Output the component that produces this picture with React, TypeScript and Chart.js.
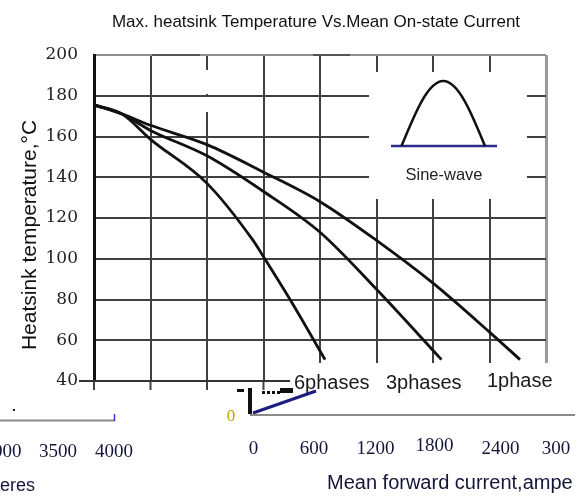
import React, { useEffect, useRef } from 'react';
import { Chart, registerables } from 'chart.js';

Chart.register(...registerables);

// ---- data ----
const CURRENT_1PHASE = [0, 250, 500, 1000, 1500, 2000, 2500, 3000, 3500, 3770];
const TEMP_1PHASE = [175.5, 171, 165.5, 156, 142.5, 128, 109, 88, 64, 50.5];
const CURRENT_3PHASE = [0, 250, 500, 1000, 1500, 2000, 2500, 3075];
const TEMP_3PHASE = [175.5, 171, 163, 150.5, 133, 113, 85, 50.5];
const CURRENT_6PHASE = [0, 250, 500, 1000, 1400, 1500, 1735, 2045];
const TEMP_6PHASE = [175.5, 171, 158.6, 137, 109.6, 101, 80, 50.5];

const Y_MIN = 40;
const Y_MAX = 200;
const Y_STEP = 20;
const X_MIN = 0;
const X_MAX = 4000;
const X_STEP = 500;

const TITLE = 'Max. heatsink Temperature Vs.Mean On-state Current';
const Y_TITLE = 'Heatsink temperature,°C';
const INSET_LABEL = 'Sine-wave';
const PHASE_LABELS = ['6phases', '3phases', '1phase'];
const LEFT_FRAGMENT_TICKS = ['000', '3500', '4000'];
const RIGHT_FRAGMENT_TICKS = ['0', '600', '1200', '1800', '2400', '300'];
const LEFT_FRAGMENT_LABEL = 'eres';
const RIGHT_FRAGMENT_LABEL = 'Mean forward current,ampe';
const ZERO_FRAGMENT = '0';

const toPoints = (xs: number[], ys: number[]) => xs.map((x, i) => ({ x, y: ys[i] }));

const GRID = '#404040';
const FRAME_GRAY = '#8f8f8f';
const INK = '#15153a';

const decorPlugin = {
  id: 'decor',
  afterDraw(chart: any) {
    const ctx: CanvasRenderingContext2D = chart.ctx;
    const xs = chart.scales.x;
    const ys = chart.scales.y;
    const area = chart.chartArea;
    ctx.save();

    // title
    ctx.fillStyle = '#111';
    ctx.font = '17px "Liberation Sans", Arial, sans-serif';
    ctx.textAlign = 'center';
    ctx.textBaseline = 'alphabetic';
    ctx.fillText(TITLE, 316, 27);

    // y axis title
    ctx.save();
    ctx.translate(36, 235);
    ctx.rotate(-Math.PI / 2);
    ctx.font = '21px "Liberation Sans", Arial, sans-serif';
    ctx.fillStyle = '#111';
    ctx.textAlign = 'center';
    ctx.fillText(Y_TITLE, 0, 0);
    ctx.restore();

    // white patches (inset, label band, gap on one grid line)
    ctx.fillStyle = '#fff';
    ctx.fillRect(369, 72, 158, 127);
    ctx.fillRect(290, 363, 292, 33);
    const x1000 = xs.getPixelForValue(1000);
    ctx.fillRect(x1000 - 2, 70, 4, 24);
    ctx.fillRect(x1000 - 2, 97, 4, 15);

    // grid line extensions below the plot, on the left part
    ctx.strokeStyle = GRID;
    ctx.lineWidth = 2;
    [0, 500, 1000, 1500].forEach((v) => {
      const px = xs.getPixelForValue(v);
      ctx.beginPath();
      ctx.moveTo(px, area.bottom);
      ctx.lineTo(px, area.bottom + 9);
      ctx.stroke();
    });
    // 40 line extension
    const y40 = ys.getPixelForValue(Y_MIN);
    ctx.strokeStyle = '#333';
    ctx.beginPath();
    ctx.moveTo(79, y40);
    ctx.lineTo(290, y40);
    ctx.stroke();

    // darker segments on the top frame
    const yTop = ys.getPixelForValue(Y_MAX);
    ctx.strokeStyle = '#555';
    ctx.beginPath();
    ctx.moveTo(152, yTop);
    ctx.lineTo(200, yTop);
    ctx.moveTo(313, yTop);
    ctx.lineTo(350, yTop);
    ctx.stroke();

    // sine-wave inset icon
    const bx0 = 391, bx1 = 497, by = 146;
    ctx.strokeStyle = '#2b2b8a';
    ctx.lineWidth = 2.5;
    ctx.beginPath();
    ctx.moveTo(bx0, by);
    ctx.lineTo(bx1, by);
    ctx.stroke();
    const sx0 = 401.5, sx1 = 485, sTop = 81;
    const W = sx1 - sx0, H = by - sTop;
    const k = W / Math.PI;
    ctx.strokeStyle = '#111';
    ctx.lineWidth = 2.5;
    ctx.beginPath();
    ctx.moveTo(sx0, by);
    ctx.bezierCurveTo(sx0 + 0.512 * k, by - 0.512 * H, sx0 + 1.003 * k, sTop, sx0 + W / 2, sTop);
    ctx.bezierCurveTo(sx1 - 1.003 * k, sTop, sx1 - 0.512 * k, by - 0.512 * H, sx1, by);
    ctx.stroke();
    ctx.fillStyle = '#222';
    ctx.font = '16.5px "Liberation Sans", Arial, sans-serif';
    ctx.textAlign = 'center';
    ctx.fillText(INSET_LABEL, 444, 180);

    // phase labels
    ctx.fillStyle = '#1a1a1a';
    ctx.font = '20px "Liberation Sans", Arial, sans-serif';
    ctx.textAlign = 'left';
    const phaseX = [294, 386, 487];
    const phaseY = [389, 389, 387];
    PHASE_LABELS.forEach((t, i) => ctx.fillText(t, phaseX[i], phaseY[i]));

    // broken fragments below the chart
    ctx.fillStyle = '#111';
    ctx.fillRect(248, 388, 4, 26);
    ctx.fillRect(237, 389, 7, 3);
    ctx.fillRect(280, 388, 13, 5);
    for (let d = 262; d < 279; d += 5) ctx.fillRect(d, 391, 3, 3);
    ctx.strokeStyle = '#1d1d80';
    ctx.lineWidth = 3;
    ctx.beginPath();
    ctx.moveTo(253, 413);
    ctx.lineTo(316, 391);
    ctx.stroke();
    ctx.strokeStyle = '#8a8a8a';
    ctx.lineWidth = 2;
    ctx.beginPath();
    ctx.moveTo(250, 415);
    ctx.lineTo(575, 415);
    ctx.moveTo(0, 420.5);
    ctx.lineTo(115, 420.5);
    ctx.stroke();
    ctx.strokeStyle = '#3a3ad0';
    ctx.lineWidth = 1.5;
    ctx.beginPath();
    ctx.moveTo(114.5, 414);
    ctx.lineTo(114.5, 421);
    ctx.stroke();
    ctx.fillStyle = '#222';
    ctx.fillRect(13, 409, 2, 2);

    ctx.font = '17px "Liberation Serif", serif';
    ctx.fillStyle = '#b8a600';
    ctx.textAlign = 'center';
    ctx.fillText(ZERO_FRAGMENT, 231, 421);

    ctx.fillStyle = INK;
    ctx.font = '19px "Liberation Serif", serif';
    ctx.textAlign = 'left';
    const leftX = [-7, 39, 95];
    LEFT_FRAGMENT_TICKS.forEach((t, i) => ctx.fillText(t, leftX[i], 457));
    ctx.textAlign = 'center';
    const rightX = [253.5, 314, 375.5, 434.5, 500.5, 556];
    const rightY = [454, 454, 454, 451, 454, 454];
    RIGHT_FRAGMENT_TICKS.forEach((t, i) => ctx.fillText(t, rightX[i], rightY[i]));

    ctx.textAlign = 'left';
    ctx.font = '18px "Liberation Sans", Arial, sans-serif';
    ctx.fillText(LEFT_FRAGMENT_LABEL, 0, 491);
    ctx.font = '20px "Liberation Sans", Arial, sans-serif';
    ctx.fillText(RIGHT_FRAGMENT_LABEL, 327, 489);

    // clip the right edge like the reference
    ctx.fillStyle = '#fff';
    ctx.fillRect(575, 400, 7, 97);

    ctx.restore();
  },
};

export default function App() {
  const canvasRef = useRef<HTMLCanvasElement | null>(null);

  useEffect(() => {
    const canvas = canvasRef.current;
    if (!canvas) return;
    const lineStyle = {
      borderColor: '#111',
      borderWidth: 2.8,
      pointRadius: 0,
      fill: false,
      cubicInterpolationMode: 'monotone' as const,
    };
    const chart = new Chart(canvas, {
      type: 'line',
      data: {
        datasets: [
          { label: PHASE_LABELS[2], data: toPoints(CURRENT_1PHASE, TEMP_1PHASE), ...lineStyle },
          { label: PHASE_LABELS[1], data: toPoints(CURRENT_3PHASE, TEMP_3PHASE), ...lineStyle },
          { label: PHASE_LABELS[0], data: toPoints(CURRENT_6PHASE, TEMP_6PHASE), ...lineStyle },
        ],
      },
      options: {
        animation: false,
        responsive: false,
        devicePixelRatio: 1,
        events: [],
        layout: { padding: { left: 0, right: 36, top: 55, bottom: 116 } },
        plugins: {
          legend: { display: false },
          title: { display: false },
          tooltip: { enabled: false },
        },
        scales: {
          x: {
            type: 'linear',
            min: X_MIN,
            max: X_MAX,
            ticks: { display: false, stepSize: X_STEP },
            border: { display: false },
            grid: {
              drawTicks: false,
              color: (c: any) => (c.tick && c.tick.value === X_MAX ? '#9a9a9a' : GRID),
              lineWidth: (c: any) => (c.tick && c.tick.value === X_MAX ? 3 : 2),
            },
            afterFit: (s: any) => {
              s.height = 0;
            },
          },
          y: {
            type: 'linear',
            min: Y_MIN,
            max: Y_MAX,
            ticks: {
              stepSize: Y_STEP,
              padding: 16,
              color: '#1e1e1e',
              font: { family: '"DejaVu Serif", serif', size: 17 },
            },
            border: { display: true, color: '#111', width: 3 },
            grid: {
              drawTicks: false,
              color: (c: any) => (c.tick && c.tick.value === Y_MAX ? FRAME_GRAY : GRID),
              lineWidth: 2,
            },
            afterFit: (s: any) => {
              s.width = 94;
            },
          },
        },
      },
      plugins: [decorPlugin],
    });
    return () => chart.destroy();
  }, []);

  return (
    <div style={{ position: 'fixed', left: 0, top: 0, width: 582, height: 497, background: '#fff' }}>
      <canvas ref={canvasRef} width={582} height={497} style={{ display: 'block' }} />
    </div>
  );
}
